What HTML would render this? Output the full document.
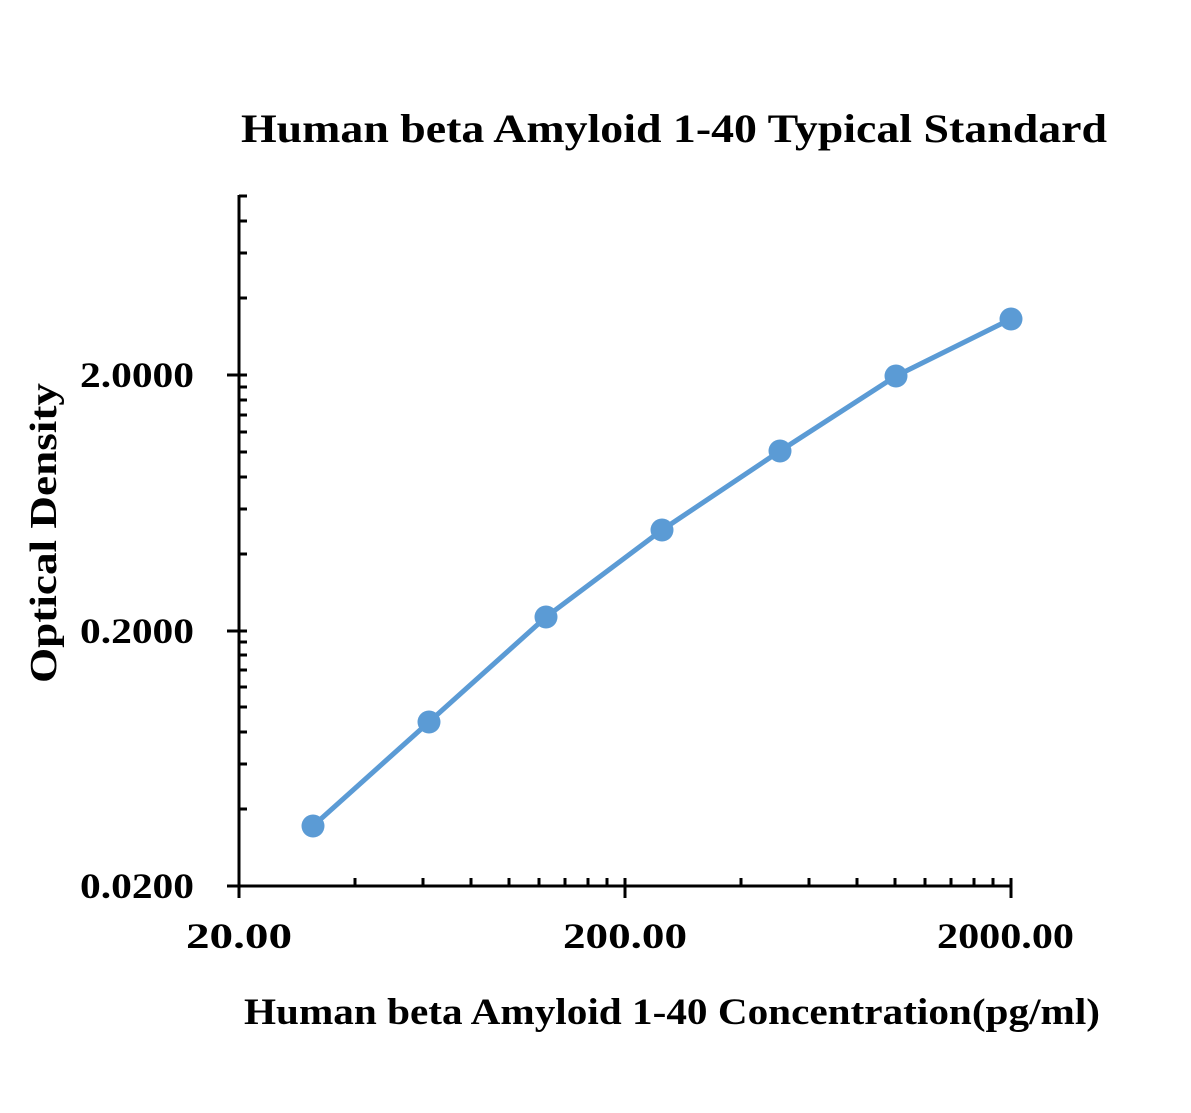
<!DOCTYPE html>
<html><head><style>body{margin:0;background:#fff}</style></head><body>
<svg width="1191" height="1108" xmlns="http://www.w3.org/2000/svg" font-family="Liberation Serif, serif" font-weight="bold">
<rect width="1191" height="1108" fill="#fff"/>
<text x="241" y="142" font-size="40" textLength="866" lengthAdjust="spacingAndGlyphs">Human beta Amyloid 1-40 Typical Standard</text>
<text x="244" y="1024" font-size="37" textLength="856" lengthAdjust="spacingAndGlyphs">Human beta Amyloid 1-40 Concentration(pg/ml)</text>
<text transform="translate(56,683) rotate(-90)" font-size="38" textLength="300" lengthAdjust="spacingAndGlyphs">Optical Density</text>
<g stroke="#000" stroke-width="3">
<line x1="239" y1="195" x2="239" y2="887"/>
<line x1="238" y1="886" x2="1012" y2="886"/>
<line x1="227" y1="886" x2="247" y2="886"/>
<line x1="227" y1="631" x2="247" y2="631"/>
<line x1="227" y1="375" x2="247" y2="375"/>
<line x1="239" y1="878" x2="239" y2="898"/>
<line x1="625" y1="878" x2="625" y2="898"/>
<line x1="1011" y1="878" x2="1011" y2="898"/>
<path d="M239 809h8M239 764h8M239 732h8M239 707h8M239 687h8M239 670h8M239 655h8M239 642h8M239 554h8M239 509h8M239 477h8M239 452h8M239 432h8M239 415h8M239 400h8M239 387h8M239 298h8M239 253h8M239 221h8M239 196h8
M355 886v-8M423 886v-8M471 886v-8M509 886v-8M539 886v-8M565 886v-8M588 886v-8M607 886v-8M741 886v-8M809 886v-8M857 886v-8M895 886v-8M925 886v-8M951 886v-8M974 886v-8M993 886v-8"/>
</g>
<g font-size="36">
<text x="80" y="898" textLength="114" lengthAdjust="spacingAndGlyphs">0.0200</text>
<text x="80" y="643" textLength="114" lengthAdjust="spacingAndGlyphs">0.2000</text>
<text x="80" y="387" textLength="114" lengthAdjust="spacingAndGlyphs">2.0000</text>
<text x="186" y="948" textLength="106" lengthAdjust="spacingAndGlyphs">20.00</text>
<text x="563" y="948" textLength="124" lengthAdjust="spacingAndGlyphs">200.00</text>
<text x="937" y="948" textLength="137" lengthAdjust="spacingAndGlyphs">2000.00</text>
</g>
<polyline fill="none" stroke="#5b9bd5" stroke-width="5" stroke-linejoin="round" points="313,826 429,722 546,617 662,530 780,451 896,376 1011,319"/>
<g fill="#5b9bd5">
<circle cx="313" cy="826" r="11.5"/><circle cx="429" cy="722" r="11.5"/><circle cx="546" cy="617" r="11.5"/><circle cx="662" cy="530" r="11.5"/><circle cx="780" cy="451" r="11.5"/><circle cx="896" cy="376" r="11.5"/><circle cx="1011" cy="319" r="11.5"/>
</g>
</svg>
</body></html>
